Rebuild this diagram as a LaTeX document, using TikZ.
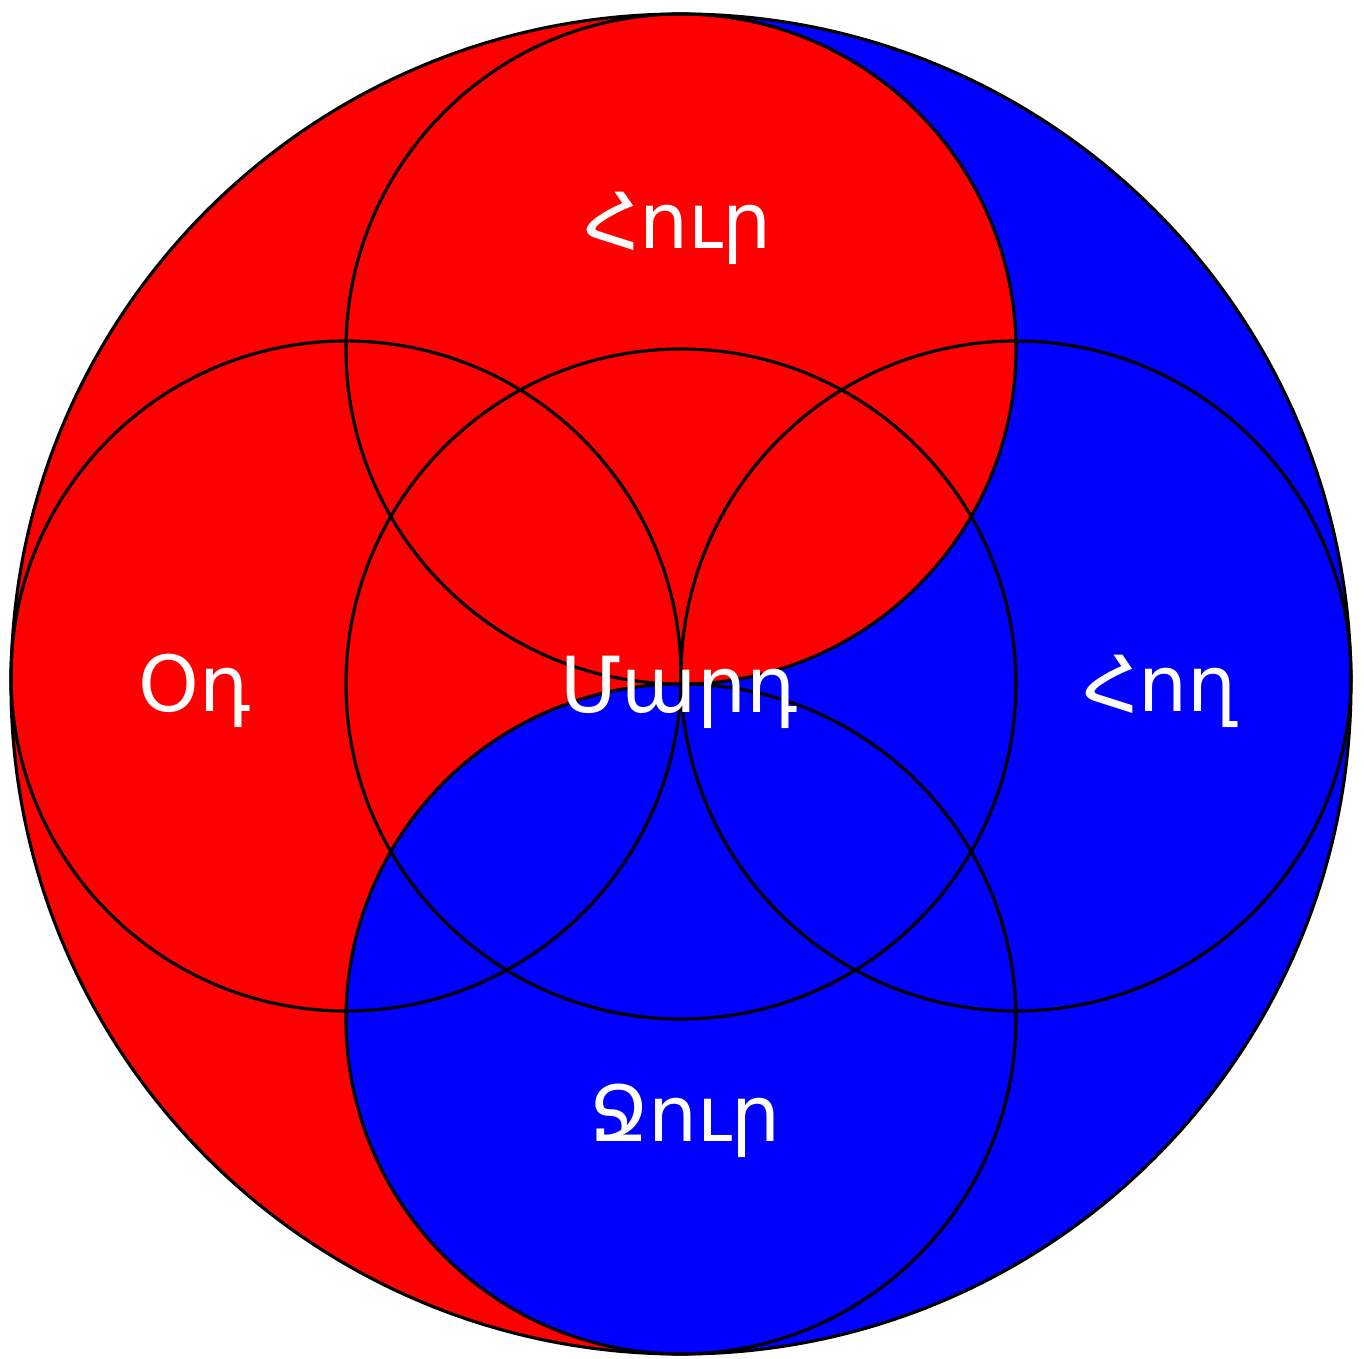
\documentclass[tikz,border=0pt]{standalone}
\usepackage{fontspec}
\newfontfamily\armfont{DejaVu Sans}
\definecolor{firered}{RGB}{255,0,0}
\definecolor{waterblue}{RGB}{0,0,255}

\begin{document}
\begin{tikzpicture}[
    ring/.style={draw=black, line width=0.9pt},
    element/.style={
        text=white, inner sep=0pt, anchor=base,
        font=\armfont\fontsize{22}{26}\selectfont
    }
]
\useasboundingbox (-6.81,-6.75) rectangle (6.83,6.84);
% halves
\fill[firered] (0,0) circle (6.7);
\fill[waterblue] (0,6.7) arc[start angle=90, end angle=-90, radius=6.7]
    arc[start angle=270, end angle=90, radius=3.35]
    arc[start angle=-90, end angle=90, radius=3.35] -- cycle;
% circles
\draw[ring] (0,0) circle (6.7);
\draw[ring] (0,3.35) circle (3.35);
\draw[ring] (0,-3.35) circle (3.35);
\draw[ring] (-3.35,0.08) circle (3.35);
\draw[ring] (3.35,0.08) circle (3.35);
\draw[ring] (0,0) circle (3.35);
% labels
\node (fire) [element] at (-0.03,4.35) {Հուր};
\node (air) [element] at (-4.86,-0.27) {Օդ};
\node (man) [element] at (-0.02,-0.29) {Մարդ};
\node (earth) [element] at (4.79,-0.27) {Հող};
\node (water) [element] at (0.04,-4.57) {Ջուր};
\end{tikzpicture}
\end{document}
